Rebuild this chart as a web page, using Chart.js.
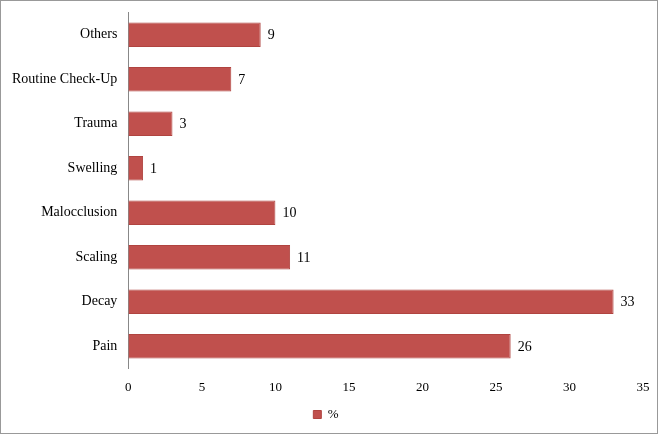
<!DOCTYPE html>
<html><head><script src="https://cdn.jsdelivr.net/npm/chart.js"></script>
<style>body{margin:0;background:#fff}#w{width:656px;height:432px;border:1px solid #999}</style></head>
<body><div id="w"><canvas id="c"></canvas></div>
<script>
const categories=["Others","Routine Check-Up","Trauma","Swelling","Malocclusion","Scaling","Decay","Pain"];
const values=[9,7,3,1,10,11,33,26];
const labelPlugin={id:'lbl',afterDatasetsDraw(ch){const ctx=ch.ctx;const m=ch.getDatasetMeta(0);ctx.save();ctx.font='14px "Liberation Serif"';ctx.fillStyle='#000';ctx.textBaseline='middle';m.data.forEach((b,i)=>{ctx.fillText(values[i],b.x+7,b.y+1)});ctx.restore();}};
new Chart(document.getElementById('c'),{type:'bar',data:{labels:categories,datasets:[{label:'%',data:values,backgroundColor:'#c0504d',borderColor:'#b04440',borderWidth:1,barPercentage:0.55,categoryPercentage:1}]},
options:{indexAxis:'y',responsive:true,maintainAspectRatio:false,animation:false,
layout:{padding:{top:8,right:14,left:8,bottom:2}},
plugins:{legend:{position:'bottom',labels:{boxWidth:8,boxHeight:8,color:'#000',font:{family:'Liberation Serif',size:13}}},tooltip:{enabled:false}},
scales:{x:{min:0,max:35,ticks:{stepSize:5,color:'#000',font:{family:'Liberation Serif',size:13}},grid:{display:false},border:{display:false}},
y:{ticks:{color:'#000',font:{family:'Liberation Serif',size:14}},grid:{display:false},border:{color:'#888'}}}},plugins:[labelPlugin]});
</script></body></html>
